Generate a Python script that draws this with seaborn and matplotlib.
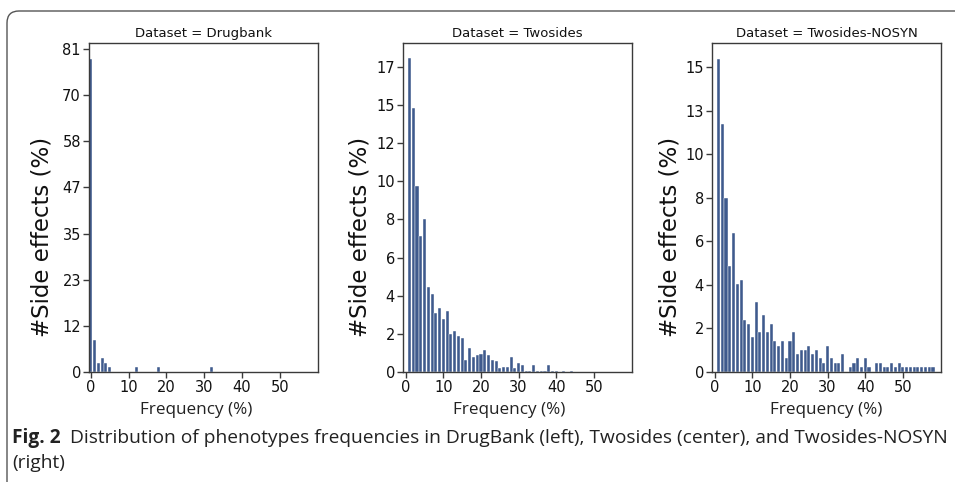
import numpy as np
import pandas as pd
import matplotlib
matplotlib.use("Agg")
import matplotlib.pyplot as plt
import seaborn as sns
from matplotlib import font_manager as fm
from matplotlib.patches import FancyBboxPatch
from matplotlib.transforms import IdentityTransform

# ---------------- data ----------------
datasets = ["Drugbank", "Twosides", "Twosides-NOSYN"]

drugbank_freq = [0, 1, 2, 3, 4, 5, 12, 18, 32]
drugbank_pct = [78.9, 8.0, 2.3, 3.5, 2.3, 1.2, 1.2, 1.2, 1.2]

twosides_freq = list(range(1, 41)) + [42, 44]
twosides_pct = [17.09, 14.36, 10.11, 7.38, 8.30, 4.64, 4.22, 3.19, 3.48, 2.86,
                3.30, 2.07, 2.25, 1.94, 1.83, 0.68, 1.31, 0.82, 0.91, 1.00,
                1.21, 0.91, 0.68, 0.60, 0.20, 0.29, 0.29, 0.82, 0.20, 0.51,
                0.38, 0.07, 0.07, 0.38, 0.07, 0.07, 0.07, 0.38, 0.07, 0.07,
                0.07, 0.07]

nosyn_freq = list(range(1, 35)) + list(range(36, 42)) + list(range(43, 59))
nosyn_pct = [15.03, 11.91, 8.36, 5.10, 6.69, 4.22, 4.41, 2.51, 2.32, 1.69,
             3.34, 1.90, 2.72, 1.90, 2.32, 1.48, 1.27, 1.48, 0.65, 1.48,
             1.90, 0.86, 1.07, 1.07, 1.27, 0.86, 1.07, 0.65, 0.44, 1.27,
             0.65, 0.44, 0.44, 0.86,
             0.23, 0.44, 0.65, 0.23, 0.65, 0.23,
             0.44, 0.44, 0.23, 0.23, 0.44, 0.23, 0.44, 0.23, 0.23, 0.23,
             0.23, 0.23, 0.23, 0.23, 0.23, 0.23]

ytick_labels = [
    ["0", "12", "23", "35", "47", "58", "70", "81"],
    ["0", "2", "4", "6", "8", "10", "12", "15", "17"],
    ["0", "2", "4", "6", "8", "10", "13", "15"],
]
ytick_step = [11.63, 2.075, 2.09]
xtick_values = [0, 10, 20, 30, 40, 50]

x_label = "Frequency (%)"
y_label = "#Side effects (%)"
caption_bold = "Fig. 2"
caption_line1 = "Distribution of phenotypes frequencies in DrugBank (left), Twosides (center), and Twosides-NOSYN"
caption_line2 = "(right)"

# ---------------- style ----------------
sns.set_style("ticks")
plt.rcParams["font.family"] = ["DejaVu Sans"]


def pick_font(fams):
    for f in fams:
        try:
            fm.findfont(fm.FontProperties(family=f), fallback_to_default=False)
            return f
        except Exception:
            pass
    return "DejaVu Sans"


cap_font = pick_font(["Liberation Sans Narrow", "Open Sans", "Noto Sans"])

W, H = 955, 482
fig = plt.figure(figsize=(W / 100, H / 100), dpi=100)

bar_color = "#3f5a8d"
spine_color = "#3a3a3a"

freqs = [drugbank_freq, twosides_freq, nosyn_freq]
pcts = [drugbank_pct, twosides_pct, nosyn_pct]

ax_left_px = [89.3, 403.3, 712.3]
ax_w_px = 228.2
ax_top_px = 43
ax_bot_px = 372
ylim_top = [82.9, 17.9, 15.8]
xlim_left = [-0.4, -0.65, -0.65]
ylabel_right_px = [53, 371, 681]
xlabel_center_px = [196, 509, 826]

for i, name in enumerate(datasets):
    ax = fig.add_axes([ax_left_px[i] / W, (H - ax_bot_px) / H,
                       ax_w_px / W, (ax_bot_px - ax_top_px) / H])
    df = pd.DataFrame({"Frequency": freqs[i], "Pct": pcts[i]})
    sns.barplot(data=df, x="Frequency", y="Pct", native_scale=True,
                color=bar_color, saturation=1, errorbar=None,
                edgecolor="white", linewidth=0.3, width=0.82, ax=ax)
    ax.set_xlim(xlim_left[i], 60)
    ax.set_ylim(0, ylim_top[i])
    ax.set_xticks(xtick_values)
    ax.set_xticklabels([str(v) for v in xtick_values])
    ticks = [ytick_step[i] * k for k in range(len(ytick_labels[i]))]
    ax.set_yticks(ticks)
    ax.set_yticklabels(ytick_labels[i])
    ax.tick_params(axis="both", labelsize=10.5, length=4, width=1,
                   color=spine_color, labelcolor="#111111", pad=2)
    for s in ax.spines.values():
        s.set_visible(True)
        s.set_color(spine_color)
        s.set_linewidth(1.0)
    ax.set_title(f"Dataset = {name}", fontsize=9.5, pad=4, color="#111111")
    ax.set_xlabel("")
    ax.set_ylabel(y_label, fontsize=16.5, color="#111111")
    ax.yaxis.set_label_coords((ylabel_right_px[i] - ax_left_px[i]) / ax_w_px, 0.41)
    fig.text(xlabel_center_px[i] / W, (H - 414) / H, x_label, ha="center",
             va="baseline", fontsize=12.3, family=cap_font, color="#222222")

# caption
cap_size = 13.5
t1 = fig.text(12 / W, (H - 443) / H, caption_bold, fontsize=cap_size,
              fontweight="bold", family=cap_font, va="baseline", color="#222222")
fig.canvas.draw()
r = fig.canvas.get_renderer()
bb = t1.get_window_extent(r)
t2 = fig.text((bb.x1 + 9) / W, (H - 443) / H, caption_line1, fontsize=cap_size,
              family=cap_font, va="baseline", color="#222222")
fig.canvas.draw()
bb2 = t2.get_window_extent(r)
total = bb2.x1 - 12
scale = (945 - 12) / total
cap_size = cap_size * scale
t1.set_fontsize(cap_size)
fig.canvas.draw()
bb = t1.get_window_extent(r)
t2.set_fontsize(cap_size)
t2.set_x((bb.x1 + 9 * scale) / W)
fig.text(12 / W, (H - 468) / H, caption_line2, fontsize=cap_size,
         family=cap_font, va="baseline", color="#222222")

# rounded frame around the figure
frame = FancyBboxPatch((7, -30), 1000, (H - 11) + 30,
                       boxstyle="round,pad=0,rounding_size=12",
                       transform=IdentityTransform(), fill=False,
                       edgecolor="#555555", linewidth=1.0)
fig.patches.append(frame)

fig.savefig("out.png", dpi=100)
